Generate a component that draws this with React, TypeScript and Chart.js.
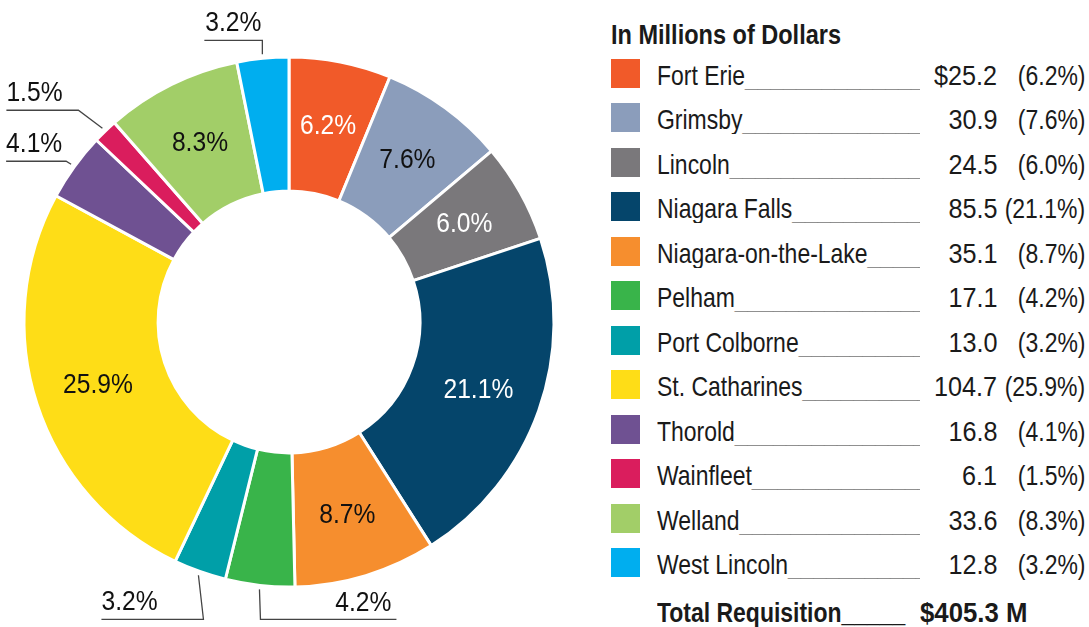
import React, { useEffect, useRef } from "react";
import { Chart, registerables } from "chart.js";

Chart.register(...registerables);

// ---- data ----
const municipalities = [
  "Fort Erie",
  "Grimsby",
  "Lincoln",
  "Niagara Falls",
  "Niagara-on-the-Lake",
  "Pelham",
  "Port Colborne",
  "St. Catharines",
  "Thorold",
  "Wainfleet",
  "Welland",
  "West Lincoln",
];
const values = [25.2, 30.9, 24.5, 85.5, 35.1, 17.1, 13.0, 104.7, 16.8, 6.1, 33.6, 12.8];
const percentLabels = ["6.2%", "7.6%", "6.0%", "21.1%", "8.7%", "4.2%", "3.2%", "25.9%", "4.1%", "1.5%", "8.3%", "3.2%"];
const legendValues = ["$25.2", "30.9", "24.5", "85.5", "35.1", "17.1", "13.0", "104.7", "16.8", "6.1", "33.6", "12.8"];
const legendPercents = ["(6.2%)", "(7.6%)", "(6.0%)", "(21.1%)", "(8.7%)", "(4.2%)", "(3.2%)", "(25.9%)", "(4.1%)", "(1.5%)", "(8.3%)", "(3.2%)"];
const colors = [
  "#f15a29",
  "#8b9dbb",
  "#7a787b",
  "#05456b",
  "#f68e2e",
  "#39b44a",
  "#009fa8",
  "#fedd17",
  "#6f5192",
  "#da1d5d",
  "#a2ce68",
  "#00aeef",
];
const legendTitle = "In Millions of Dollars";
const totalName = "Total Requisition";
const totalValue = "$405.3 M";

// label styling (not data)
const insideLabelColors: Record<number, string> = {
  0: "#ffffff",
  1: "#111111",
  2: "#ffffff",
  3: "#ffffff",
  4: "#111111",
  7: "#111111",
  10: "#111111",
};
// outside labels: elbow offset from anchor, horizontal run, text alignment
const outsideLabels = [
  { i: 11, ex: 0, ey: -14, run: -58, align: "center" },
  { i: 9, ex: -24, ey: -18, run: -72, align: "left" },
  { i: 8, ex: -5, ey: -3, run: -60, align: "left" },
  { i: 6, ex: 5, ey: 44, run: -102, align: "left" },
  { i: 5, ex: 1, ey: 30, run: 136, align: "right" },
];

const FONT = '"Liberation Sans", Arial, sans-serif';
const SX = 0.82;
const SX_NUM = 0.88;

function condensedText(ctx: CanvasRenderingContext2D, text: string, x: number, y: number, sx = SX_NUM) {
  ctx.save();
  ctx.translate(x, y);
  ctx.scale(sx, 1);
  ctx.fillText(text, 0, 0);
  ctx.restore();
}

const labelPlugin = {
  id: "sliceLabels",
  afterDatasetsDraw(chart: any) {
    const ctx = chart.ctx;
    const meta = chart.getDatasetMeta(0);
    ctx.save();
    ctx.font = `28px ${FONT}`;
    meta.data.forEach((arc: any, idx: number) => {
      const p = arc.getProps(["x", "y", "startAngle", "endAngle", "innerRadius", "outerRadius"], true);
      const mid = (p.startAngle + p.endAngle) / 2;
      if (insideLabelColors[idx] !== undefined) {
        const r = (p.innerRadius + p.outerRadius) / 2 + 3;
        ctx.fillStyle = insideLabelColors[idx];
        ctx.textAlign = "center";
        ctx.textBaseline = "middle";
        condensedText(ctx, percentLabels[idx], p.x + Math.cos(mid) * r, p.y + Math.sin(mid) * r + 1);
      }
    });
    outsideLabels.forEach((o) => {
      const arc: any = meta.data[o.i];
      const p = arc.getProps(["x", "y", "startAngle", "endAngle", "outerRadius"], true);
      const mid = (p.startAngle + p.endAngle) / 2;
      const r = p.outerRadius + 4;
      const ax = p.x + Math.cos(mid) * r;
      const ay = p.y + Math.sin(mid) * r;
      const bx = ax + o.ex;
      const by = ay + o.ey;
      const cx = bx + o.run;
      ctx.strokeStyle = "#444444";
      ctx.lineWidth = 1.3;
      ctx.beginPath();
      ctx.moveTo(ax, ay);
      ctx.lineTo(bx, by);
      ctx.lineTo(cx, by);
      ctx.stroke();
      ctx.fillStyle = "#111111";
      ctx.textBaseline = "alphabetic";
      const left = Math.min(bx, cx);
      const right = Math.max(bx, cx);
      if (o.align === "center") {
        ctx.textAlign = "center";
        condensedText(ctx, percentLabels[o.i], (left + right) / 2, by - 9);
      } else if (o.align === "left") {
        ctx.textAlign = "left";
        condensedText(ctx, percentLabels[o.i], left, by - 9);
      } else {
        ctx.textAlign = "right";
        condensedText(ctx, percentLabels[o.i], right - 5, by - 8);
      }
    });
    ctx.restore();
  },
};

function Narrow({
  children,
  origin = "left",
  bold = false,
  sx = SX,
}: {
  children: React.ReactNode;
  origin?: string;
  bold?: boolean;
  sx?: number;
}) {
  return (
    <span
      style={{
        display: "inline-block",
        transform: `scaleX(${sx})`,
        transformOrigin: `${origin} center`,
        fontWeight: bold ? "bold" : "normal",
      }}
    >
      {children}
    </span>
  );
}

export default function App() {
  const canvasRef = useRef<HTMLCanvasElement | null>(null);

  useEffect(() => {
    if (!canvasRef.current) return;
    const chart = new Chart(canvasRef.current, {
      type: "doughnut",
      data: {
        labels: municipalities,
        datasets: [
          {
            data: values,
            backgroundColor: colors,
            borderColor: "#ffffff",
            borderWidth: 3,
            hoverOffset: 0,
          },
        ],
      },
      options: {
        responsive: false,
        animation: false,
        radius: 265,
        cutout: "49.4%",
        layout: { padding: { top: 17, bottom: 0, left: 0, right: 0 } },
        plugins: {
          legend: { display: false },
          tooltip: { enabled: false },
        },
      },
      plugins: [labelPlugin],
    } as any);
    return () => chart.destroy();
  }, []);

  const textStyle: React.CSSProperties = {
    fontFamily: FONT,
    fontSize: 28,
    color: "#1a1a1a",
    whiteSpace: "nowrap",
    lineHeight: "29px",
  };

  return (
    <div style={{ position: "absolute", left: 0, top: 0, width: 1089, height: 627, background: "#fff", overflow: "hidden" }}>
      <canvas ref={canvasRef} width={578} height={627} style={{ position: "absolute", left: 0, top: 0 }} />
      <div style={{ ...textStyle, position: "absolute", left: 611, top: 20 }}>
        <Narrow bold sx={0.84}>{legendTitle}</Narrow>
      </div>
      {municipalities.map((name, i) => {
        const top = 59 + i * 44.45;
        return (
          <div key={name} style={{ position: "absolute", left: 611, top, height: 29, width: 478 }}>
            <div style={{ position: "absolute", left: 0, top: 0, width: 29, height: 29, background: colors[i] }} />
            <div style={{ ...textStyle, position: "absolute", left: 46, top: 2, width: 263, overflow: "hidden" }}>
              <Narrow>
                {name}
                <span style={{ color: "#777" }}>{"______________________________"}</span>
              </Narrow>
            </div>
            <div style={{ ...textStyle, position: "absolute", left: 286, top: 2, width: 100, textAlign: "right" }}>
              <Narrow origin="right" sx={0.9}>
                {legendValues[i]}
              </Narrow>
            </div>
            <div style={{ ...textStyle, position: "absolute", left: 374, top: 2, width: 100, textAlign: "right" }}>
              <Narrow origin="right">{legendPercents[i]}</Narrow>
            </div>
          </div>
        );
      })}
      <div style={{ ...textStyle, position: "absolute", left: 657, top: 598 }}>
        <Narrow bold>
          {totalName}
          {"_____"}
        </Narrow>
      </div>
      <div style={{ ...textStyle, position: "absolute", left: 920, top: 598 }}>
        <Narrow bold sx={0.92}>
          {totalValue}
        </Narrow>
      </div>
    </div>
  );
}
